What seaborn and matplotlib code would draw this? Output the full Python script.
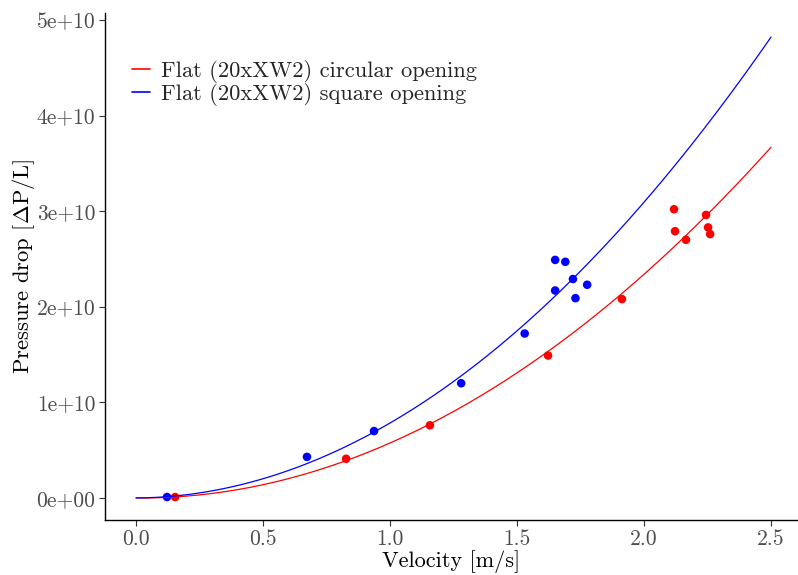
import numpy as np
import pandas as pd
import matplotlib
matplotlib.use("Agg")
import matplotlib.pyplot as plt
import seaborn as sns

# ---- data ----
circ_v = [0.154, 0.827, 1.157, 1.622, 1.913, 2.118, 2.122, 2.165, 2.244, 2.252, 2.260]
circ_dp = [0.01e10, 0.41e10, 0.76e10, 1.49e10, 2.08e10, 3.02e10, 2.79e10, 2.70e10, 2.96e10, 2.83e10, 2.76e10]
sq_v = [0.122, 0.673, 0.937, 1.280, 1.530, 1.650, 1.690, 1.720, 1.650, 1.776, 1.730]
sq_dp = [0.01e10, 0.43e10, 0.70e10, 1.20e10, 1.72e10, 2.49e10, 2.47e10, 2.29e10, 2.17e10, 2.23e10, 2.09e10]
# fitted curve coefficients (dp = a v^2 + b v)
circ_fit = [0.595e10, -0.02e10]
sq_fit = [0.763e10, 0.021e10]
labels = ["Flat (20xXW2) circular opening", "Flat (20xXW2) square opening"]
colors = ["#ff0000", "#0000ff"]
xticks = [0.0, 0.5, 1.0, 1.5, 2.0, 2.5]
yticks = [0, 1e10, 2e10, 3e10, 4e10, 5e10]
ytick_labels = ["0e+00", "1e+10", "2e+10", "3e+10", "4e+10", "5e+10"]

sns.set_theme(style="white")
plt.rcParams["font.family"] = ["cmr10", "DejaVu Serif"]
plt.rcParams["mathtext.fontset"] = "cm"
plt.rcParams["axes.unicode_minus"] = False
plt.rcParams["axes.formatter.use_mathtext"] = True

pts = pd.DataFrame({
    "v": circ_v + sq_v,
    "dp": circ_dp + sq_dp,
    "series": [labels[0]] * len(circ_v) + [labels[1]] * len(sq_v),
})

vgrid = np.linspace(0, 2.5, 200)
curves = pd.concat([
    pd.DataFrame({"v": vgrid, "dp": c[0]*vgrid**2 + c[1]*vgrid, "series": lab})
    for c, lab in [(circ_fit, labels[0]), (sq_fit, labels[1])]
])

fig = plt.figure(figsize=(7.98, 5.75), dpi=100)
ax = fig.add_axes([0.1316, 0.0957, 0.8684, 0.8813])
palette = dict(zip(labels, colors))
sns.lineplot(data=curves, x="v", y="dp", hue="series", palette=palette, lw=0.9, ax=ax)
sns.scatterplot(data=pts, x="v", y="dp", hue="series", palette=palette, s=38,
                edgecolor="none", ax=ax, legend=False)

ax.set_xlim(-0.122, 2.606)
ax.set_ylim(-0.23e10, 5.07e10)
ax.set_xticks(xticks)
ax.set_xticklabels([f"{t:.1f}" for t in xticks])
ax.set_yticks(yticks)
ax.set_yticklabels(ytick_labels)
ax.tick_params(axis="both", which="both", direction="out", length=4, width=0.8,
               color="#333333", labelsize=15.5, labelcolor="#4d4d4d", bottom=True, left=True, pad=3)
for s in ["top", "right"]:
    ax.spines[s].set_visible(False)
for s in ["left", "bottom"]:
    ax.spines[s].set_color("black")
    ax.spines[s].set_linewidth(1.0)
ax.set_xlabel("Velocity [m/s]", fontsize=16, color="black", labelpad=1)
ax.set_ylabel(r"Pressure drop [$\Delta$P/L]", fontsize=16.3, color="black", labelpad=-0.5)

leg = ax.legend(title=None, frameon=False, fontsize=16.2, loc="upper left",
                bbox_to_anchor=(0.009, 0.948), handlelength=0.8, handletextpad=0.5,
                labelspacing=0.02)
for h in leg.get_lines():
    h.set_linewidth(1.2)

fig.savefig("out.png", dpi=100)
